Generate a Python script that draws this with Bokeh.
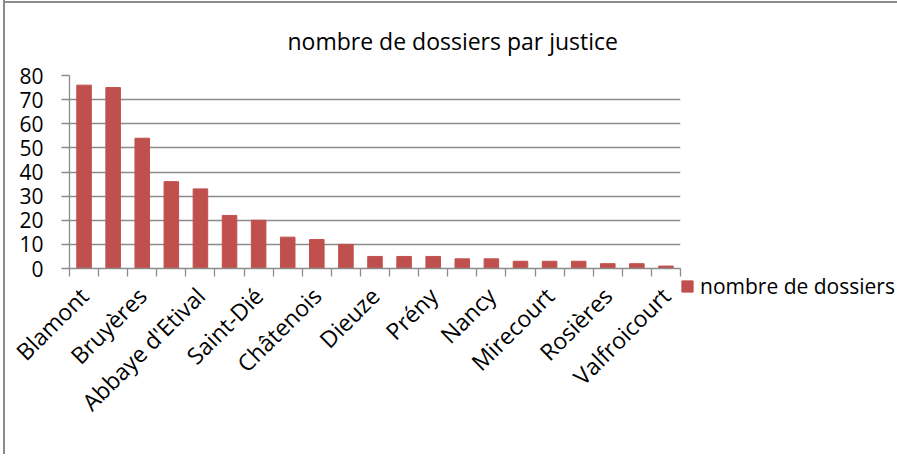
import math
from bokeh.plotting import figure
from bokeh.models import FixedTicker, Legend, LegendItem, ColumnDataSource
from bokeh.embed import file_html
from bokeh.resources import INLINE

# ---- data ----
values = [76, 75, 54, 36, 33, 22, 20, 13, 12, 10, 5, 5, 5, 4, 4, 3, 3, 3, 2, 2, 1]
tick_labels = ["Blamont", "Bruyères", "Abbaye d'Etival", "Saint-Dié", "Châtenois",
               "Dieuze", "Prény", "Nancy", "Mirecourt", "Rosières", "Valfroicourt"]
y_ticks = [0, 10, 20, 30, 40, 50, 60, 70, 80]
series_name = "nombre de dossiers"
title_text = "nombre de dossiers par justice"

FONT = "Open Sans"
GRAY = "#8c8c8c"
BAR = "#C0504D"

n = len(values)
x = list(range(1, n + 1))
labelled = x[::2]
src = ColumnDataSource(dict(x=x, top=values))

p = figure(frame_width=611, frame_height=193, output_backend="svg", toolbar_location=None,
           x_range=(0.5, n + 0.5), y_range=(0, 80),
           min_border_left=69, min_border_right=209, min_border_top=75,
           min_border_bottom=186)
# chart-area frame (left and top edges, as in the spreadsheet export)
p.border_fill_color = None
p.styles = {
    "background": ("linear-gradient(#8c8c8c,#8c8c8c) 3px 0 / 2px 100% no-repeat, "
                   "linear-gradient(#8c8c8c,#8c8c8c) 3px 1px / 100% 2px no-repeat, white"),
}

r = p.vbar(x="x", top="top", width=0.5, source=src, fill_color=BAR, line_color=BAR)

p.outline_line_color = None
p.xgrid.visible = False
p.ygrid.ticker = FixedTicker(ticks=y_ticks)
p.ygrid.grid_line_color = GRAY
p.ygrid.grid_line_width = 1.3

# y axis
p.yaxis.ticker = FixedTicker(ticks=y_ticks)
p.yaxis.axis_line_color = GRAY
p.yaxis.axis_line_width = 1.3
p.yaxis.major_tick_line_color = GRAY
p.yaxis.major_tick_line_width = 1.3
p.yaxis.major_tick_out = 8
p.yaxis.major_tick_in = 0
p.yaxis.minor_tick_line_color = None
p.yaxis.major_label_text_font = FONT
p.yaxis.major_label_text_font_size = "21px"
p.yaxis.major_label_text_color = "black"
p.yaxis.major_label_standoff = 18

# x axis: labels on every other bar, ticks on category boundaries
p.xaxis.ticker = FixedTicker(ticks=labelled, minor_ticks=[v + 0.5 for v in [0] + x])
p.xaxis.major_label_overrides = {k: lab for k, lab in zip(labelled, tick_labels)}
p.xaxis.axis_line_color = GRAY
p.xaxis.axis_line_width = 1.3
p.xaxis.major_tick_out = 0
p.xaxis.major_tick_in = 0
p.xaxis.minor_tick_out = 8
p.xaxis.minor_tick_in = 0
p.xaxis.minor_tick_line_color = GRAY
p.xaxis.minor_tick_line_width = 1.3
p.xaxis.major_label_orientation = math.pi / 4
p.xaxis.major_label_text_font = FONT
p.xaxis.major_label_text_font_size = "23px"
p.xaxis.major_label_text_color = "black"
p.xaxis.major_label_standoff = 15

# title
p.title.text = title_text
p.title.align = "left"
p.title.offset = 218
p.title.text_font = FONT
p.title.text_font_size = "23px"
p.title.text_font_style = "normal"
p.title.text_color = "black"
p.title.standoff = 37

legend = Legend(items=[LegendItem(label=series_name, renderers=[r])],
                location=(0, -32), padding=0, margin=0, spacing=0,
                glyph_width=14, glyph_height=14, label_standoff=6,
                border_line_color=None, background_fill_alpha=0,
                label_text_font=FONT, label_text_font_size="21px",
                label_text_color="black")
p.add_layout(legend, "right")

open("out.html", "w").write(file_html(p, INLINE))
